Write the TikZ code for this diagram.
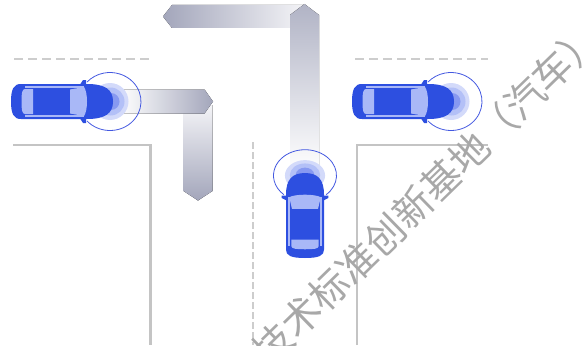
\documentclass[tikz,border=0pt]{standalone}
\usepackage{fontspec}
\newfontfamily\cjkfont{Noto Sans CJK SC}
\definecolor{carblue}{HTML}{2D4FE0}
\definecolor{carglass}{HTML}{A9B8F7}
\definecolor{glowlight}{HTML}{D3DAFA}
\definecolor{glowmid}{HTML}{B3C0F7}
\definecolor{glowdeep}{HTML}{8799F1}
\definecolor{sensorblue}{HTML}{4358E0}
\definecolor{lanegray}{HTML}{C4C4C4}
\definecolor{dashgray}{HTML}{CDCDCD}
\definecolor{pathdark}{HTML}{A3A6BB}
\definecolor{pathlight}{HTML}{F4F4F7}
\definecolor{markgray}{HTML}{A8A8A8}
\tikzset{
  lanesolid/.style={draw=lanegray, line width=2.6pt},
  lanedash/.style={draw=dashgray, line width=2.6pt, dash pattern=on 9pt off 5pt},
  car/.pic={
    % sensor glow in front of the bonnet
    \fill[glowlight] (99,0) ellipse [x radius=18.5pt, y radius=18.5pt];
    \fill[glowmid] (99.5,0) ellipse [x radius=14pt, y radius=14pt];
    \fill[glowdeep] (100,0) ellipse [x radius=8.5pt, y radius=8.5pt];
    % sensing range
    \draw[sensorblue, line width=0.8pt] (99,0) ++(-138:31pt and 29pt)
      arc[start angle=-138, end angle=138, x radius=31pt, y radius=29pt];
    % body
    \fill[carblue] (10,-17.5) -- (76,-17.5) .. controls (94,-17.5) and (102,-12) .. (102,0)
      .. controls (102,12) and (94,17.5) .. (76,17.5) -- (10,17.5)
      .. controls (3,17.5) and (0,13) .. (0,0) .. controls (0,-13) and (3,-17.5) .. (10,-17.5) -- cycle;
    % mirrors
    \fill[carblue] (69,-17) -- (72,-21.5) -- (75,-21.5) -- (75,-17) -- cycle;
    \fill[carblue] (69,17) -- (72,21.5) -- (75,21.5) -- (75,17) -- cycle;
    % rear window
    \fill[carglass] (22,-12.5) -- (14,-12.5) .. controls (11,-12.5) and (10.5,-8) .. (10.5,0)
      .. controls (10.5,8) and (11,12.5) .. (14,12.5) -- (22,12.5) -- cycle;
    % windscreen
    \fill[carglass] (59,-12) -- (73,-14.5) .. controls (77,-9) and (77,9) .. (73,14.5) -- (59,12) -- cycle;
    % side glass strips
    \fill[carglass] (14,-15.3) rectangle (73,-13.8);
    \fill[carglass] (14,13.8) rectangle (73,15.3);
  }
}
\begin{document}
\begin{tikzpicture}[x=1pt,y=-1pt]
\useasboundingbox (0,0) rectangle (588,345);

% lane markings
\draw[lanedash] (14,59) -- (152,59);
\draw[lanedash] (355,59) -- (488,59);
\draw[lanedash, dash pattern=on 6.5pt off 3.5pt] (253,142) -- (253,345);
\draw[lanesolid] (13,145) -- (150.5,145) -- (150.5,345);
\draw[lanesolid] (357,345) -- (357,145) -- (488,145);

% planned path of the left car: ahead, then turn right
\fill[top color=pathlight, bottom color=pathdark]
  (183.5,105) -- (212.5,105) -- (212.5,191) -- (198,200.5) -- (183.5,191) -- cycle;
\fill[left color=white, right color=pathdark]
  (120,89.5) -- (204.5,89.5) -- (213,101.5) -- (204.5,113.5) -- (120,113.5) -- cycle;

% planned path of the middle car: ahead, then turn left
\fill[left color=pathdark, right color=pathlight]
  (163,16.5) -- (172,5) -- (305,5) -- (305,28) -- (172,28) -- cycle;
\fill[top color=pathdark!85!white, bottom color=white]
  (290,15) -- (304.5,4) -- (319,15) -- (319,172) -- (290,172) -- cycle;

% vehicles
\pic (carleft) at (11,101.5) {car};
\pic (carright) at (352,101.5) {car};
\pic[rotate=90, xscale=0.833, yscale=1.086] (carmid) at (305,258) {car};

% watermark text
\node[text=markgray, rotate=44.3, inner sep=0pt] (wm) at (427,194)
  {\cjkfont\fontsize{39}{39}\selectfont 技术标准创新基地（汽车）};
\end{tikzpicture}
\end{document}
